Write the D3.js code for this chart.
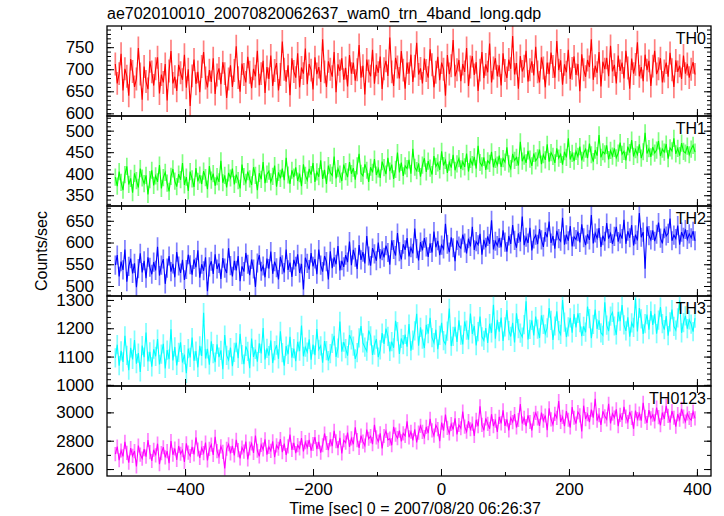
<!DOCTYPE html>
<html><head><meta charset="utf-8">
<script src="https://cdn.jsdelivr.net/npm/d3@7"></script>
<style>body{margin:0;background:#fff}svg{display:block;font-family:"Liberation Sans",Arial,sans-serif}</style>
</head><body><svg id="c" width="724" height="516"></svg>
<script>
const title = "ae702010010_20070820062637_wam0_trn_4band_long.qdp";
const xLabel = "Time [sec] 0 = 2007/08/20 06:26:37";
const yLabel = "Counts/sec";
const bands = ["TH0", "TH1", "TH2", "TH3", "TH0123"];
const colors = ["#ff0000", "#00ff00", "#0000ff", "#00ffff", "#ff00ff"];
const timeStart = -509, timeStep = 3;
const xTickLabels = [-400, -200, 0, 200, 400];
const errors = [26, 20, 22, 34, 50];

const th0 = [712,668,690,735,652,701,684,640,723,695,660,678,748,689,631,706,672,655,718,694,
663,701,727,645,688,670,712,629,696,741,668,683,651,710,692,676,733,658,700,617,
685,722,667,694,648,706,739,680,659,698,671,725,644,687,702,666,716,690,635,678,
709,660,697,752,681,649,713,688,670,728,693,657,701,684,742,664,690,719,646,705,
678,731,662,697,714,652,688,763,700,672,709,641,725,695,681,736,659,704,690,747,
666,712,698,654,727,689,705,671,768,694,660,718,700,683,739,648,711,696,725,676,
703,661,732,690,715,674,699,755,681,708,643,722,696,684,744,667,710,692,729,655,
701,719,685,772,694,662,726,705,679,741,698,656,715,690,733,671,707,760,688,702,
668,724,697,681,745,710,659,693,728,675,715,700,640,732,689,708,766,684,699,721,
673,712,694,748,662,705,730,687,716,651,698,739,680,711,693,758,670,703,725,684,
709,663,736,697,680,722,701,775,688,714,656,730,695,707,742,672,699,718,686,751,
694,670,727,703,659,715,689,738,706,681,764,698,720,665,711,693,744,678,702,729,
687,712,650,734,699,683,721,705,768,676,708,692,739,661,717,700,726,684,753,695,
710,668,731,696,715,679,742,703,656,724,690,711,761,684,705,673,733,698,719,662,
707,742,689,701,725,670,696,715,683,737,699,660,720,694,708,678,731,690,712,681,
700,716,688];
const th1 = [392,371,405,380,362,398,417,375,389,356,401,384,368,412,390,377,396,352,386,408,
373,395,381,420,366,391,403,378,359,394,411,383,370,399,386,425,374,392,360,405,
388,369,413,382,397,376,406,391,364,418,385,400,372,393,381,430,379,396,368,402,
390,412,375,398,384,366,421,393,380,405,388,374,415,396,362,401,387,427,378,399,
406,381,394,419,370,403,389,412,385,437,397,376,408,392,415,383,400,371,422,396,
385,411,398,425,381,404,393,431,388,409,376,419,402,396,440,389,412,399,383,421,
405,392,427,400,413,386,418,446,401,395,422,408,381,415,403,434,397,411,390,428,
414,399,437,406,421,388,410,449,403,426,395,418,412,432,400,458,415,407,424,393,
420,436,404,429,413,398,441,417,425,409,452,419,431,402,427,414,444,408,423,435,
411,428,416,447,405,433,421,439,412,465,426,418,438,409,430,424,451,415,433,420,
442,416,435,427,461,423,412,446,431,438,419,474,429,441,425,453,434,418,447,430,
437,456,422,444,432,468,428,449,440,425,459,436,445,421,451,438,482,433,447,429,
452,440,463,431,448,457,436,470,444,428,455,442,490,438,451,446,466,433,454,441,
459,437,448,472,445,452,431,463,449,478,440,456,444,468,436,451,495,447,458,439,
462,448,455,476,441,457,450,469,435,460,453,482,446,459,442,471,452,448,464,444,
457,466,450];
const th2 = [548,571,522,556,537,584,510,545,563,529,552,497,540,575,531,558,518,566,543,527,
555,536,590,524,548,562,505,541,569,533,551,520,578,546,530,560,514,538,572,549,
526,561,543,582,519,550,535,566,488,544,557,528,573,539,552,516,564,541,530,587,
547,522,558,536,569,511,545,533,576,550,525,561,539,498,553,571,534,546,520,563,
540,579,528,556,542,515,567,549,531,584,537,554,521,560,545,573,530,551,492,565,
552,538,576,545,562,527,584,548,533,569,556,515,580,541,566,550,592,536,558,544,
571,555,602,548,583,566,539,594,560,578,552,615,569,547,587,574,558,600,563,581,
566,593,577,549,605,584,570,622,579,561,596,583,610,568,588,575,632,586,559,601,
582,610,590,567,598,577,625,589,604,571,594,585,643,596,578,612,588,557,605,592,
587,618,599,575,609,591,636,583,602,595,620,572,606,589,614,597,651,584,603,593,
610,589,628,601,579,615,597,640,605,588,621,602,660,594,612,599,634,582,608,617,
596,631,606,590,624,612,648,599,615,586,627,609,603,657,595,618,604,638,591,613,
607,625,600,642,611,594,619,606,663,598,622,610,633,590,616,603,645,609,621,597,
614,636,602,620,609,652,597,626,611,640,593,618,605,668,612,624,540,637,616,606,
628,603,619,646,610,598,632,615,621,655,604,617,609,639,595,624,612,630,607,620,
611,626,604];
const th3 = [1095,1142,1068,1120,1081,1173,1104,1052,1131,1090,1158,1075,1112,1046,1139,1098,1185,1083,1117,1064,
1126,1101,1162,1072,1109,1145,1058,1123,1091,1196,1086,1134,1069,1115,1150,1079,1107,1041,1128,1097,
1167,1085,1119,1062,1138,1102,1255,1093,1127,1071,1154,1110,1080,1143,1098,1122,1055,1176,1104,1088,
1132,1066,1115,1149,1094,1180,1107,1073,1136,1118,1059,1164,1099,1125,1082,1147,1111,1201,1090,1129,
1103,1157,1077,1121,1140,1092,1189,1114,1068,1137,1108,1170,1096,1128,1084,1152,1119,1210,1101,1133,
1116,1161,1089,1142,1105,1197,1125,1138,1078,1155,1121,1086,1110,1147,1173,1099,1130,1224,1117,1151,
1128,1103,1176,1159,1137,1092,1114,1166,1208,1148,1133,1119,1192,1173,1106,1140,1162,1098,1124,1183,
1145,1199,1171,1118,1153,1131,1226,1188,1109,1164,1142,1178,1135,1215,1121,1158,1191,1251,1138,1203,
1162,1130,1212,1181,1237,1167,1149,1195,1126,1175,1219,1156,1144,1190,1270,1137,1171,1205,1152,1228,
1176,1143,1224,1193,1160,1252,1180,1208,1139,1188,1241,1170,1157,1201,1148,1216,1184,1283,1163,1230,
1188,1238,1155,1205,1264,1192,1171,1219,1150,1253,1199,1183,1169,1213,1295,1160,1196,1228,1175,1241,
1197,1166,1246,1214,1180,1201,1271,1228,1159,1208,1260,1192,1178,1300,1222,1169,1205,1237,1184,1250,
1203,1253,1220,1172,1207,1186,1277,1234,1165,1214,1266,1198,1228,1184,1175,1292,1211,1190,1243,1256,
1208,1177,1258,1225,1282,1212,1191,1239,1170,1219,1203,1305,1189,1271,1233,1180,1216,1248,1195,1261,
1212,1251,1181,1229,1275,1216,1195,1243,1174,1223,1266,1207,1193,1237,1298,1184,1220,1244,1199,1230,
1215,1188,1236];
const th0123 = [2705,2758,2662,2731,2689,2792,2714,2645,2748,2693,2727,2618,2766,2702,2674,2741,2688,2805,2719,2657,
2736,2697,2779,2634,2712,2754,2683,2726,2642,2798,2701,2745,2665,2763,2708,2733,2651,2781,2716,2692,
2757,2704,2823,2738,2679,2749,2713,2787,2661,2742,2772,2699,2828,2727,2688,2760,2721,2604,2743,2775,
2711,2764,2696,2806,2734,2675,2752,2723,2794,2668,2745,2781,2714,2837,2729,2690,2771,2738,2809,2702,
2756,2728,2795,2684,2767,2743,2812,2720,2779,2699,2760,2843,2735,2785,2712,2769,2746,2818,2724,2790,
2753,2806,2730,2777,2826,2741,2792,2716,2768,2851,2784,2733,2810,2762,2869,2796,2748,2821,2711,2803,
2786,2858,2757,2817,2775,2895,2804,2749,2836,2793,2766,2879,2814,2832,2776,2912,2823,2794,2852,2745,
2833,2869,2806,2815,2768,2898,2843,2818,2871,2795,2852,2834,2936,2824,2863,2803,2881,2788,2857,2905,
2862,2825,2897,2854,2955,2873,2836,2909,2882,2797,2928,2871,2985,2890,2852,2918,2879,2958,2845,2911,
2888,3006,2899,2864,2939,2881,2921,2834,2948,2902,3042,2912,2873,2957,2919,2884,2987,2903,2941,2862,
2968,2922,3015,2904,2950,2873,2961,2931,2988,2893,2946,3058,2921,2962,2903,2979,2932,2872,2955,2996,
2958,2905,2999,2941,2978,2874,3028,2951,2913,2989,2961,3079,2933,2968,2902,3009,2948,2893,3038,2962,
2921,3002,2979,2866,3047,2952,2988,2931,3019,2963,3095,2942,2981,2912,3008,2972,2951,3061,2922,2991,
2963,3021,2903,2982,2946,3039,2971,2932,3003,2961,2884,3012,2952,2992,2941,3068,2969,2925,3016,2958,
2983,2937,3033,2966,2909,2998,2954,3046,2975,2928,3009,2962,2899,2987,2948,3024,2971,2935,2992,2960,
2946,3005,2958];
const series = [th0, th1, th2, th3, th0123];
const yDomains = [[594, 798], [325, 534], [477, 684], [996, 1314], [2551, 3186]];
const yMajor = [50, 50, 50, 100, 200];
const yMinor = [10, 10, 10, 20, 100];

const svg = d3.select("#c");
const L = 107, R = 711, T = 26, PH = 90;
const x = d3.scaleLinear().domain([-522, 422]).range([L, R]);
const fs = 17;
const font = "Liberation Sans, Arial, sans-serif";

svg.append("text").attr("x", 107).attr("y", 19).attr("font-size", 16).text(title);

function styleAxis(a) {
  a.select(".domain").remove();
  a.selectAll("line").attr("stroke", "#000").attr("stroke-width", 1);
  a.selectAll("text").attr("font-size", fs).attr("fill", "#000").attr("font-family", font);
}

series.forEach((vals, k) => {
  const top = T + k * PH, bot = top + PH;
  const y = d3.scaleLinear().domain(yDomains[k]).range([bot, top]);
  const g = svg.append("g");
  const clipId = "clip" + k;
  g.append("clipPath").attr("id", clipId).append("rect").attr("x", L).attr("y", top).attr("width", R - L).attr("height", PH);
  const data = vals.map((v, i) => ({t: timeStart + i * timeStep, v}));
  const dg = g.append("g").attr("clip-path", `url(#${clipId})`);
  dg.append("path")
    .attr("d", data.map(d => `M${x(d.t)},${y(d.v - errors[k])}V${y(d.v + errors[k])}`).join(""))
    .attr("stroke", colors[k]).attr("stroke-opacity", 0.5).attr("stroke-width", 1.7).attr("fill", "none");
  const line = d3.line().x(d => x(d.t)).y(d => y(d.v));
  dg.append("path").datum(data).attr("d", line)
    .attr("stroke", colors[k]).attr("stroke-width", 1.1).attr("fill", "none");

  const yMinorTicks = d3.range(Math.ceil(yDomains[k][0] / yMinor[k]) * yMinor[k], yDomains[k][1], yMinor[k]);
  const yMajorTicks = yMinorTicks.filter(v => v % yMajor[k] === 0);
  [
    [d3.axisLeft, L, yMinorTicks, -4, false],
    [d3.axisRight, R, yMinorTicks, -4, false],
    [d3.axisLeft, L, yMajorTicks, -7, true],
    [d3.axisRight, R, yMajorTicks, -7, false]
  ].forEach(([ax, xx, tv, ts, lab]) => {
    const a = g.append("g").attr("transform", `translate(${xx},0)`)
      .call(ax(y).tickValues(tv).tickSize(ts).tickPadding(13).tickFormat(lab ? d3.format("d") : ""));
    styleAxis(a);
  });

  const xMinorTicks = d3.range(-500, 401, 100);
  const isLast = k === series.length - 1;
  [[d3.axisBottom, bot], [d3.axisTop, top]].forEach(([ax, yy]) => {
    const mn = g.append("g").attr("transform", `translate(0,${yy})`).call(ax(x).tickValues(xMinorTicks).tickSize(-4).tickFormat(""));
    const mj = g.append("g").attr("transform", `translate(0,${yy})`).call(ax(x).tickValues(xTickLabels).tickSize(-7).tickPadding(7)
      .tickFormat(isLast && ax === d3.axisBottom ? (d => d < 0 ? "\u2212" + Math.abs(d) : String(d)) : ""));
    styleAxis(mn); styleAxis(mj);
  });

  g.append("rect").attr("x", L).attr("y", top).attr("width", R - L).attr("height", PH)
    .attr("fill", "none").attr("stroke", "#000").attr("stroke-width", 1.3);
  g.append("text").attr("x", 706).attr("y", top + 18).attr("text-anchor", "end").attr("font-size", 16).text(bands[k]);
});

svg.append("text").attr("transform", "translate(47,251) rotate(-90)").attr("text-anchor", "middle").attr("font-size", 16).text(yLabel);
svg.append("text").attr("x", 415).attr("y", 514).attr("text-anchor", "middle").attr("font-size", 16).text(xLabel);
</script></body></html>
